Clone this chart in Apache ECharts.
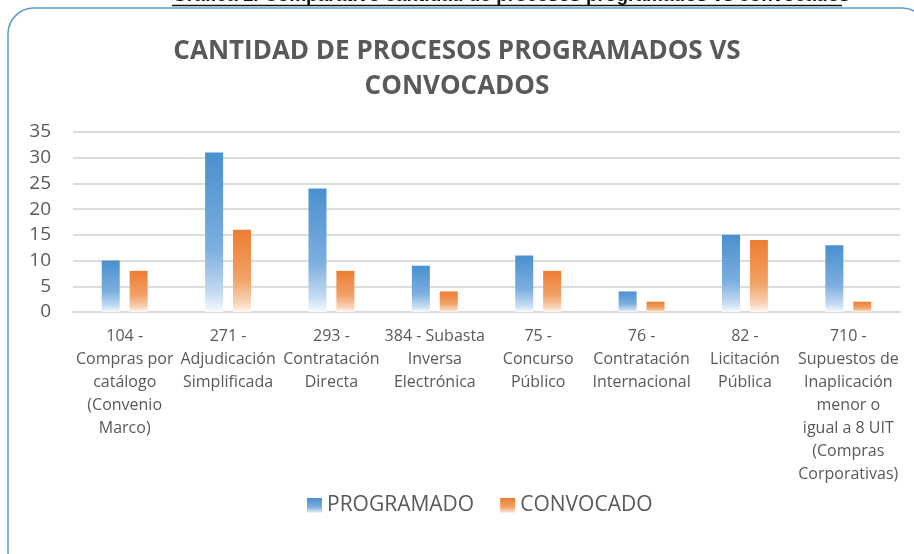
<!DOCTYPE html>
<html>
<head>
<meta charset="utf-8">
<script src="https://cdn.jsdelivr.net/npm/echarts@6/dist/echarts.min.js"></script>
<style>
  html, body { margin: 0; padding: 0; background: #fff; }
  #main { width: 914px; height: 554px; }
</style>
</head>
<body>
<div id="main"></div>
<script>
var categorias = [
  '104 -\nCompras por\ncatálogo\n(Convenio\nMarco)',
  '271 -\nAdjudicación\nSimplificada',
  '293 -\nContratación\nDirecta',
  '384 - Subasta\nInversa\nElectrónica',
  '75 -\nConcurso\nPúblico',
  '76 -\nContratación\nInternacional',
  '82 -\nLicitación\nPública',
  '710 -\nSupuestos de\nInaplicación\nmenor o\nigual a 8 UIT\n(Compras\nCorporativas)'
];
var programado = [10, 31, 24, 9, 11, 4, 15, 13];
var convocado = [8, 16, 8, 4, 8, 2, 14, 2];

var fuente = '"Open Sans", "Noto Sans", sans-serif';

var chart = echarts.init(document.getElementById('main'), null, { renderer: 'canvas' });

// degradado tipo Excel, oscuro arriba y blanco abajo
function degradado(c0, c1, c2, c3) {
  return new echarts.graphic.LinearGradient(0, 0, 0, 1, [
    { offset: 0, color: c0 },
    { offset: 0.6, color: c1 },
    { offset: 0.88, color: c2 },
    { offset: 1, color: c3 }
  ]);
}

var option = {
  animation: false,
  backgroundColor: '#fff',
  title: {
    text: 'CANTIDAD DE PROCESOS PROGRAMADOS VS\nCONVOCADOS',
    left: 'center',
    top: 29,
    textStyle: {
      fontFamily: fuente,
      fontSize: 26,
      fontWeight: 'bold',
      color: '#595959',
      lineHeight: 35
    }
  },
  graphic: [
    {
      type: 'rect',
      shape: { x: 8, y: 8, width: 920, height: 570, r: 26 },
      style: { fill: 'none', stroke: '#5B9BD5', lineWidth: 1.5 },
      z: 10
    },
    {
      type: 'text',
      x: 172,
      y: -14,
      style: {
        text: 'Gráfica 1. Comparativo cantidad de procesos programados vs convocados',
        font: 'bold 19px Arial, "Liberation Sans", sans-serif',
        fill: '#111'
      }
    },
    {
      type: 'line',
      shape: { x1: 172, y1: 5.5, x2: 842, y2: 5.5 },
      style: { stroke: '#111', lineWidth: 1.5 }
    }
  ],
  legend: {
    top: 490,
    left: 302,
    itemWidth: 15,
    itemHeight: 15,
    itemGap: 26,
    icon: 'rect',
    textStyle: { fontFamily: fuente, fontSize: 21, color: '#595959' },
    data: ['PROGRAMADO', 'CONVOCADO']
  },
  grid: {
    left: 73,
    right: 14,
    top: 132,
    bottom: 242
  },
  xAxis: {
    type: 'category',
    data: categorias,
    axisLine: { lineStyle: { color: '#D9D9D9', width: 2 } },
    axisTick: { show: false },
    axisLabel: {
      interval: 0,
      margin: 13,
      fontFamily: fuente,
      fontSize: 16,
      lineHeight: 23,
      color: '#595959',
      align: 'center'
    }
  },
  yAxis: {
    type: 'value',
    min: 0,
    max: 35,
    interval: 5,
    axisLine: { show: false },
    axisTick: { show: false },
    axisLabel: {
      fontFamily: fuente,
      fontSize: 19,
      color: '#595959',
      margin: 22
    },
    splitLine: { lineStyle: { color: '#D0D0D0', width: 1.5 } }
  },
  series: [
    {
      name: 'PROGRAMADO',
      type: 'bar',
      data: programado,
      barWidth: 18,
      barGap: '55%',
      itemStyle: {
        color: degradado('#4A90CF', '#7CAEDF', '#C4DBF1', '#F7FAFD')
      }
    },
    {
      name: 'CONVOCADO',
      type: 'bar',
      data: convocado,
      barWidth: 18,
      itemStyle: {
        color: degradado('#ED7D31', '#F2A267', '#F8D2B6', '#FFF8F3')
      }
    }
  ]
};

chart.setOption(option);
</script>
</body>
</html>
